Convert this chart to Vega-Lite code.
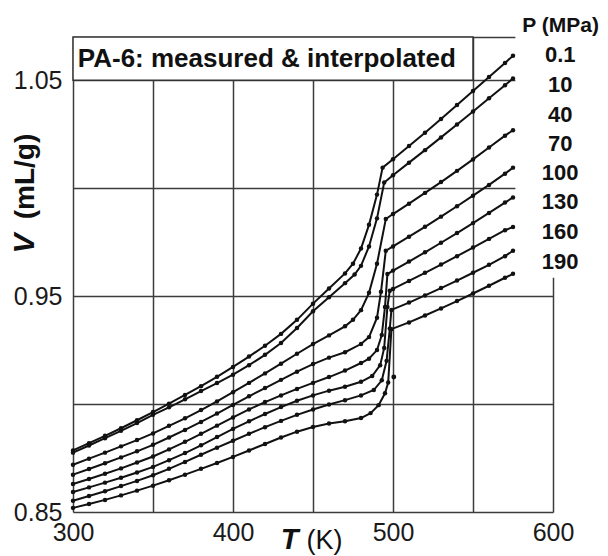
{
  "$schema": "https://vega.github.io/schema/vega-lite/v6.json",
  "width": 480,
  "height": 475,
  "autosize": {"type": "none"},
  "padding": {"left": 73, "top": 37, "right": 55, "bottom": 44},
  "background": "white",
  "config": {"view": {"stroke": null}, "font": "Liberation Sans"},
  "datasets": {
    "box": [{"T": 300, "T2": 550, "V": 1.05, "V2": 1.07}],
    "mask": [{"T": 576.5, "T2": 606, "V": 0.9585, "V2": 1.08}],
    "title": [{"t": "PA-6: measured & interpolated", "T": 303, "V": 1.0598}],
    "head": [{"t": "P (MPa)", "T": 604.8, "V": 1.075}],
    "labels": [
      {"t": "0.1", "T": 604.5, "V": 1.0616},
      {"t": "10", "T": 604.5, "V": 1.0477},
      {"t": "40", "T": 604.5, "V": 1.0338},
      {"t": "70", "T": 604.5, "V": 1.0204},
      {"t": "100", "T": 604.5, "V": 1.0069},
      {"t": "130", "T": 604.5, "V": 0.9935},
      {"t": "160", "T": 604.5, "V": 0.9796},
      {"t": "190", "T": 604.5, "V": 0.9657}
    ],
    "extra": [{"T": 500.5, "V": 0.9125}],
    "pv": [
      {"P": "0.1", "T": 300, "V": 0.8785}, {"P": "0.1", "T": 310, "V": 0.8819}, {"P": "0.1", "T": 320, "V": 0.8853}, {"P": "0.1", "T": 330, "V": 0.8888}, {"P": "0.1", "T": 340, "V": 0.8925}, {"P": "0.1", "T": 350, "V": 0.8963}, {"P": "0.1", "T": 360, "V": 0.9002}, {"P": "0.1", "T": 370, "V": 0.9042}, {"P": "0.1", "T": 380, "V": 0.9083}, {"P": "0.1", "T": 390, "V": 0.9126}, {"P": "0.1", "T": 400, "V": 0.9172}, {"P": "0.1", "T": 410, "V": 0.922}, {"P": "0.1", "T": 420, "V": 0.927}, {"P": "0.1", "T": 430, "V": 0.9325}, {"P": "0.1", "T": 440, "V": 0.939}, {"P": "0.1", "T": 450, "V": 0.9465}, {"P": "0.1", "T": 460, "V": 0.9535}, {"P": "0.1", "T": 470, "V": 0.9605}, {"P": "0.1", "T": 475, "V": 0.965}, {"P": "0.1", "T": 480, "V": 0.972}, {"P": "0.1", "T": 485, "V": 0.983}, {"P": "0.1", "T": 490, "V": 0.997}, {"P": "0.1", "T": 493.5, "V": 1.0095}, {"P": "0.1", "T": 500, "V": 1.0134}, {"P": "0.1", "T": 510, "V": 1.0195}, {"P": "0.1", "T": 520, "V": 1.0257}, {"P": "0.1", "T": 530, "V": 1.032}, {"P": "0.1", "T": 540, "V": 1.0385}, {"P": "0.1", "T": 550, "V": 1.045}, {"P": "0.1", "T": 560, "V": 1.0515}, {"P": "0.1", "T": 570, "V": 1.058}, {"P": "0.1", "T": 575, "V": 1.0613},
      {"P": "10", "T": 300, "V": 0.8775}, {"P": "10", "T": 310, "V": 0.8808}, {"P": "10", "T": 320, "V": 0.8842}, {"P": "10", "T": 330, "V": 0.8876}, {"P": "10", "T": 340, "V": 0.8912}, {"P": "10", "T": 350, "V": 0.895}, {"P": "10", "T": 360, "V": 0.8985}, {"P": "10", "T": 370, "V": 0.9022}, {"P": "10", "T": 380, "V": 0.906}, {"P": "10", "T": 390, "V": 0.9097}, {"P": "10", "T": 400, "V": 0.9136}, {"P": "10", "T": 410, "V": 0.918}, {"P": "10", "T": 420, "V": 0.9228}, {"P": "10", "T": 430, "V": 0.9283}, {"P": "10", "T": 440, "V": 0.9352}, {"P": "10", "T": 450, "V": 0.943}, {"P": "10", "T": 460, "V": 0.9495}, {"P": "10", "T": 470, "V": 0.956}, {"P": "10", "T": 476, "V": 0.96}, {"P": "10", "T": 480, "V": 0.964}, {"P": "10", "T": 485, "V": 0.973}, {"P": "10", "T": 490, "V": 0.986}, {"P": "10", "T": 494.5, "V": 1.0026}, {"P": "10", "T": 500, "V": 1.006}, {"P": "10", "T": 510, "V": 1.0118}, {"P": "10", "T": 520, "V": 1.0176}, {"P": "10", "T": 530, "V": 1.0235}, {"P": "10", "T": 540, "V": 1.0295}, {"P": "10", "T": 550, "V": 1.0355}, {"P": "10", "T": 560, "V": 1.0416}, {"P": "10", "T": 570, "V": 1.0477}, {"P": "10", "T": 575, "V": 1.0508},
      {"P": "40", "T": 300, "V": 0.8719}, {"P": "40", "T": 310, "V": 0.8747}, {"P": "40", "T": 320, "V": 0.8775}, {"P": "40", "T": 330, "V": 0.8804}, {"P": "40", "T": 340, "V": 0.8833}, {"P": "40", "T": 350, "V": 0.8864}, {"P": "40", "T": 360, "V": 0.8899}, {"P": "40", "T": 370, "V": 0.8934}, {"P": "40", "T": 380, "V": 0.8972}, {"P": "40", "T": 390, "V": 0.9012}, {"P": "40", "T": 400, "V": 0.9055}, {"P": "40", "T": 410, "V": 0.9098}, {"P": "40", "T": 420, "V": 0.9142}, {"P": "40", "T": 430, "V": 0.9187}, {"P": "40", "T": 440, "V": 0.9233}, {"P": "40", "T": 450, "V": 0.9278}, {"P": "40", "T": 460, "V": 0.9318}, {"P": "40", "T": 470, "V": 0.936}, {"P": "40", "T": 475, "V": 0.939}, {"P": "40", "T": 480, "V": 0.9435}, {"P": "40", "T": 485, "V": 0.9515}, {"P": "40", "T": 490, "V": 0.965}, {"P": "40", "T": 495.5, "V": 0.9857}, {"P": "40", "T": 500, "V": 0.988}, {"P": "40", "T": 510, "V": 0.9928}, {"P": "40", "T": 520, "V": 0.9978}, {"P": "40", "T": 530, "V": 1.0028}, {"P": "40", "T": 540, "V": 1.008}, {"P": "40", "T": 550, "V": 1.0133}, {"P": "40", "T": 560, "V": 1.0188}, {"P": "40", "T": 570, "V": 1.0243}, {"P": "40", "T": 575, "V": 1.0268},
      {"P": "70", "T": 300, "V": 0.8673}, {"P": "70", "T": 310, "V": 0.8699}, {"P": "70", "T": 320, "V": 0.8726}, {"P": "70", "T": 330, "V": 0.8753}, {"P": "70", "T": 340, "V": 0.8781}, {"P": "70", "T": 350, "V": 0.8811}, {"P": "70", "T": 360, "V": 0.8845}, {"P": "70", "T": 370, "V": 0.888}, {"P": "70", "T": 380, "V": 0.8917}, {"P": "70", "T": 390, "V": 0.8956}, {"P": "70", "T": 400, "V": 0.8996}, {"P": "70", "T": 410, "V": 0.9036}, {"P": "70", "T": 420, "V": 0.9074}, {"P": "70", "T": 430, "V": 0.9112}, {"P": "70", "T": 440, "V": 0.915}, {"P": "70", "T": 450, "V": 0.9185}, {"P": "70", "T": 460, "V": 0.9215}, {"P": "70", "T": 470, "V": 0.924}, {"P": "70", "T": 480, "V": 0.9278}, {"P": "70", "T": 485, "V": 0.931}, {"P": "70", "T": 490, "V": 0.94}, {"P": "70", "T": 492.5, "V": 0.952}, {"P": "70", "T": 495.5, "V": 0.971}, {"P": "70", "T": 500, "V": 0.973}, {"P": "70", "T": 510, "V": 0.9775}, {"P": "70", "T": 520, "V": 0.9821}, {"P": "70", "T": 530, "V": 0.9868}, {"P": "70", "T": 540, "V": 0.9916}, {"P": "70", "T": 550, "V": 0.9965}, {"P": "70", "T": 560, "V": 1.0015}, {"P": "70", "T": 570, "V": 1.0067}, {"P": "70", "T": 575, "V": 1.0095},
      {"P": "100", "T": 300, "V": 0.863}, {"P": "100", "T": 310, "V": 0.8653}, {"P": "100", "T": 320, "V": 0.8677}, {"P": "100", "T": 330, "V": 0.8702}, {"P": "100", "T": 340, "V": 0.8729}, {"P": "100", "T": 350, "V": 0.8757}, {"P": "100", "T": 360, "V": 0.879}, {"P": "100", "T": 370, "V": 0.8825}, {"P": "100", "T": 380, "V": 0.8862}, {"P": "100", "T": 390, "V": 0.89}, {"P": "100", "T": 400, "V": 0.8938}, {"P": "100", "T": 410, "V": 0.8975}, {"P": "100", "T": 420, "V": 0.9009}, {"P": "100", "T": 430, "V": 0.904}, {"P": "100", "T": 440, "V": 0.907}, {"P": "100", "T": 450, "V": 0.9098}, {"P": "100", "T": 460, "V": 0.9125}, {"P": "100", "T": 470, "V": 0.9155}, {"P": "100", "T": 480, "V": 0.919}, {"P": "100", "T": 485, "V": 0.921}, {"P": "100", "T": 490, "V": 0.925}, {"P": "100", "T": 493, "V": 0.932}, {"P": "100", "T": 495, "V": 0.945}, {"P": "100", "T": 496.5, "V": 0.9602}, {"P": "100", "T": 500, "V": 0.9618}, {"P": "100", "T": 510, "V": 0.966}, {"P": "100", "T": 520, "V": 0.9703}, {"P": "100", "T": 530, "V": 0.9747}, {"P": "100", "T": 540, "V": 0.9792}, {"P": "100", "T": 550, "V": 0.9838}, {"P": "100", "T": 560, "V": 0.9885}, {"P": "100", "T": 570, "V": 0.9933}, {"P": "100", "T": 575, "V": 0.9957},
      {"P": "130", "T": 300, "V": 0.8593}, {"P": "130", "T": 310, "V": 0.8614}, {"P": "130", "T": 320, "V": 0.8636}, {"P": "130", "T": 330, "V": 0.8659}, {"P": "130", "T": 340, "V": 0.8683}, {"P": "130", "T": 350, "V": 0.8709}, {"P": "130", "T": 360, "V": 0.874}, {"P": "130", "T": 370, "V": 0.8773}, {"P": "130", "T": 380, "V": 0.8809}, {"P": "130", "T": 390, "V": 0.8847}, {"P": "130", "T": 400, "V": 0.8885}, {"P": "130", "T": 410, "V": 0.892}, {"P": "130", "T": 420, "V": 0.8954}, {"P": "130", "T": 430, "V": 0.8986}, {"P": "130", "T": 440, "V": 0.9015}, {"P": "130", "T": 450, "V": 0.904}, {"P": "130", "T": 460, "V": 0.9062}, {"P": "130", "T": 470, "V": 0.908}, {"P": "130", "T": 480, "V": 0.9103}, {"P": "130", "T": 487, "V": 0.913}, {"P": "130", "T": 492, "V": 0.918}, {"P": "130", "T": 494.5, "V": 0.926}, {"P": "130", "T": 496.5, "V": 0.945}, {"P": "130", "T": 498, "V": 0.9525}, {"P": "130", "T": 500, "V": 0.9533}, {"P": "130", "T": 510, "V": 0.957}, {"P": "130", "T": 520, "V": 0.9608}, {"P": "130", "T": 530, "V": 0.9646}, {"P": "130", "T": 540, "V": 0.9685}, {"P": "130", "T": 550, "V": 0.9725}, {"P": "130", "T": 560, "V": 0.9765}, {"P": "130", "T": 570, "V": 0.9805}, {"P": "130", "T": 575, "V": 0.982},
      {"P": "160", "T": 300, "V": 0.8552}, {"P": "160", "T": 310, "V": 0.8574}, {"P": "160", "T": 320, "V": 0.8596}, {"P": "160", "T": 330, "V": 0.862}, {"P": "160", "T": 340, "V": 0.8644}, {"P": "160", "T": 350, "V": 0.867}, {"P": "160", "T": 360, "V": 0.87}, {"P": "160", "T": 370, "V": 0.8732}, {"P": "160", "T": 380, "V": 0.8765}, {"P": "160", "T": 390, "V": 0.8798}, {"P": "160", "T": 400, "V": 0.883}, {"P": "160", "T": 410, "V": 0.8862}, {"P": "160", "T": 420, "V": 0.8893}, {"P": "160", "T": 430, "V": 0.8922}, {"P": "160", "T": 440, "V": 0.895}, {"P": "160", "T": 450, "V": 0.8975}, {"P": "160", "T": 460, "V": 0.8998}, {"P": "160", "T": 470, "V": 0.9018}, {"P": "160", "T": 480, "V": 0.904}, {"P": "160", "T": 488, "V": 0.9065}, {"P": "160", "T": 493, "V": 0.911}, {"P": "160", "T": 496, "V": 0.92}, {"P": "160", "T": 498, "V": 0.935}, {"P": "160", "T": 499, "V": 0.9436}, {"P": "160", "T": 510, "V": 0.947}, {"P": "160", "T": 520, "V": 0.9503}, {"P": "160", "T": 530, "V": 0.9537}, {"P": "160", "T": 540, "V": 0.9572}, {"P": "160", "T": 550, "V": 0.9608}, {"P": "160", "T": 560, "V": 0.9645}, {"P": "160", "T": 570, "V": 0.9685}, {"P": "160", "T": 575, "V": 0.971},
      {"P": "190", "T": 300, "V": 0.8519}, {"P": "190", "T": 310, "V": 0.8537}, {"P": "190", "T": 320, "V": 0.8556}, {"P": "190", "T": 330, "V": 0.8577}, {"P": "190", "T": 340, "V": 0.8599}, {"P": "190", "T": 350, "V": 0.8622}, {"P": "190", "T": 360, "V": 0.8647}, {"P": "190", "T": 370, "V": 0.8673}, {"P": "190", "T": 380, "V": 0.87}, {"P": "190", "T": 390, "V": 0.8727}, {"P": "190", "T": 400, "V": 0.8755}, {"P": "190", "T": 410, "V": 0.8785}, {"P": "190", "T": 420, "V": 0.8815}, {"P": "190", "T": 430, "V": 0.8845}, {"P": "190", "T": 440, "V": 0.8872}, {"P": "190", "T": 450, "V": 0.8894}, {"P": "190", "T": 460, "V": 0.891}, {"P": "190", "T": 470, "V": 0.892}, {"P": "190", "T": 480, "V": 0.8935}, {"P": "190", "T": 486, "V": 0.8958}, {"P": "190", "T": 491, "V": 0.8995}, {"P": "190", "T": 495, "V": 0.905}, {"P": "190", "T": 497, "V": 0.91}, {"P": "190", "T": 499, "V": 0.9347}, {"P": "190", "T": 510, "V": 0.9378}, {"P": "190", "T": 520, "V": 0.941}, {"P": "190", "T": 530, "V": 0.9443}, {"P": "190", "T": 540, "V": 0.9477}, {"P": "190", "T": 550, "V": 0.9512}, {"P": "190", "T": 560, "V": 0.9548}, {"P": "190", "T": 570, "V": 0.9585}, {"P": "190", "T": 575, "V": 0.9603}
    ]
  },
  "resolve": {"axis": {"x": "independent", "y": "independent"}},
  "layer": [
    {
      "data": {"name": "box"},
      "mark": {"type": "rect", "fill": "white", "stroke": "#333", "strokeWidth": 1.5},
      "encoding": {
        "x": {"field": "T", "type": "quantitative", "scale": {"domain": [300, 600], "nice": false, "zero": false}, "axis": null},
        "x2": {"field": "T2"},
        "y": {"field": "V", "type": "quantitative", "scale": {"domain": [0.85, 1.07], "nice": false, "zero": false}, "axis": null},
        "y2": {"field": "V2"}
      }
    },
    {
      "data": {"name": "mask"},
      "mark": {"type": "rect", "fill": "white", "strokeWidth": 0},
      "encoding": {
        "x": {"field": "T", "type": "quantitative", "axis": null},
        "x2": {"field": "T2"},
        "y": {"field": "V", "type": "quantitative", "axis": null},
        "y2": {"field": "V2"}
      }
    },
    {
      "data": {"name": "pv"},
      "mark": {"type": "line", "color": "#111", "strokeWidth": 2},
      "encoding": {
        "x": {
          "field": "T", "type": "quantitative",
          "axis": {
            "values": [300, 350, 400, 450, 500, 550, 600],
            "labelExpr": "datum.value % 100 === 0 ? datum.label : ''",
            "grid": true, "gridColor": "#3c3c3c", "gridWidth": 1.5,
            "ticks": false, "domain": false, "labelFlush": false, "labelOverlap": false,
            "labelFont": "Liberation Sans", "labelFontSize": 25, "labelColor": "#1a1a1a", "labelPadding": 8,
            "title": "T", "titleFont": "Liberation Sans", "titleFontSize": 29, "titleFontStyle": "italic", "titleFontWeight": "bold",
            "titleColor": "#111", "titleX": 216, "titleY": 36, "titleBaseline": "alphabetic", "titleAlign": "center"
          }
        },
        "y": {
          "field": "V", "type": "quantitative",
          "axis": {
            "values": [0.85, 0.9, 0.95, 1, 1.05, 1.07],
            "labelExpr": "(abs(datum.value-0.85)<0.001 || abs(datum.value-0.95)<0.001 || abs(datum.value-1.05)<0.001) ? format(datum.value,'.2f') : ''",
            "grid": true, "gridColor": "#3c3c3c", "gridWidth": 1.5,
            "ticks": false, "domain": false, "labelFlush": false, "labelOverlap": false,
            "labelFont": "Liberation Sans", "labelFontSize": 25, "labelColor": "#1a1a1a", "labelPadding": 11, "labelBaseline": "middle",
            "title": "V", "titleFont": "Liberation Sans", "titleFontSize": 30, "titleFontStyle": "italic", "titleFontWeight": "bold",
            "titleColor": "#111", "titleAngle": 270, "titleX": -40, "titleY": 206, "titleBaseline": "alphabetic", "titleAlign": "center"
          }
        },
        "detail": {"field": "P"}
      }
    },
    {
      "data": {"name": "pv"},
      "mark": {"type": "point", "filled": true, "color": "#111", "size": 20, "opacity": 1},
      "encoding": {
        "x": {"field": "T", "type": "quantitative", "axis": null},
        "y": {"field": "V", "type": "quantitative", "axis": null}
      }
    },
    {
      "data": {"name": "extra"},
      "mark": {"type": "point", "filled": true, "color": "#111", "size": 24, "opacity": 1},
      "encoding": {
        "x": {"field": "T", "type": "quantitative", "axis": null},
        "y": {"field": "V", "type": "quantitative", "axis": null}
      }
    },
    {
      "data": {"name": "title"},
      "mark": {"type": "text", "align": "left", "baseline": "middle", "font": "Liberation Sans", "fontSize": 26, "fontWeight": "bold", "color": "#111"},
      "encoding": {
        "x": {"field": "T", "type": "quantitative", "axis": null},
        "y": {"field": "V", "type": "quantitative", "axis": null},
        "text": {"field": "t"}
      }
    },
    {
      "data": {"name": "head"},
      "mark": {"type": "text", "align": "center", "baseline": "middle", "font": "Liberation Sans", "fontSize": 21, "fontWeight": "bold", "color": "#111"},
      "encoding": {
        "x": {"field": "T", "type": "quantitative", "axis": null},
        "y": {"field": "V", "type": "quantitative", "axis": null},
        "text": {"field": "t"}
      }
    },
    {
      "data": {"name": "labels"},
      "mark": {"type": "text", "align": "center", "baseline": "middle", "font": "Liberation Sans", "fontSize": 22, "fontWeight": "bold", "color": "#111"},
      "encoding": {
        "x": {
          "field": "T", "type": "quantitative",
          "axis": {
            "orient": "bottom", "labels": false, "ticks": false, "domain": false, "grid": false,
            "title": "(K)", "titleFont": "Liberation Sans", "titleFontSize": 27, "titleFontWeight": "normal", "titleColor": "#111",
            "titleX": 251, "titleY": 36, "titleBaseline": "alphabetic", "titleAlign": "center"
          }
        },
        "y": {
          "field": "V", "type": "quantitative",
          "axis": {
            "orient": "left", "labels": false, "ticks": false, "domain": false, "grid": false,
            "title": "(mL/g)", "titleFont": "Liberation Sans", "titleFontSize": 28, "titleFontWeight": "bold", "titleColor": "#111",
            "titleAngle": 270, "titleX": -40, "titleY": 139, "titleBaseline": "alphabetic", "titleAlign": "center"
          }
        },
        "text": {"field": "t"}
      }
    }
  ]
}
